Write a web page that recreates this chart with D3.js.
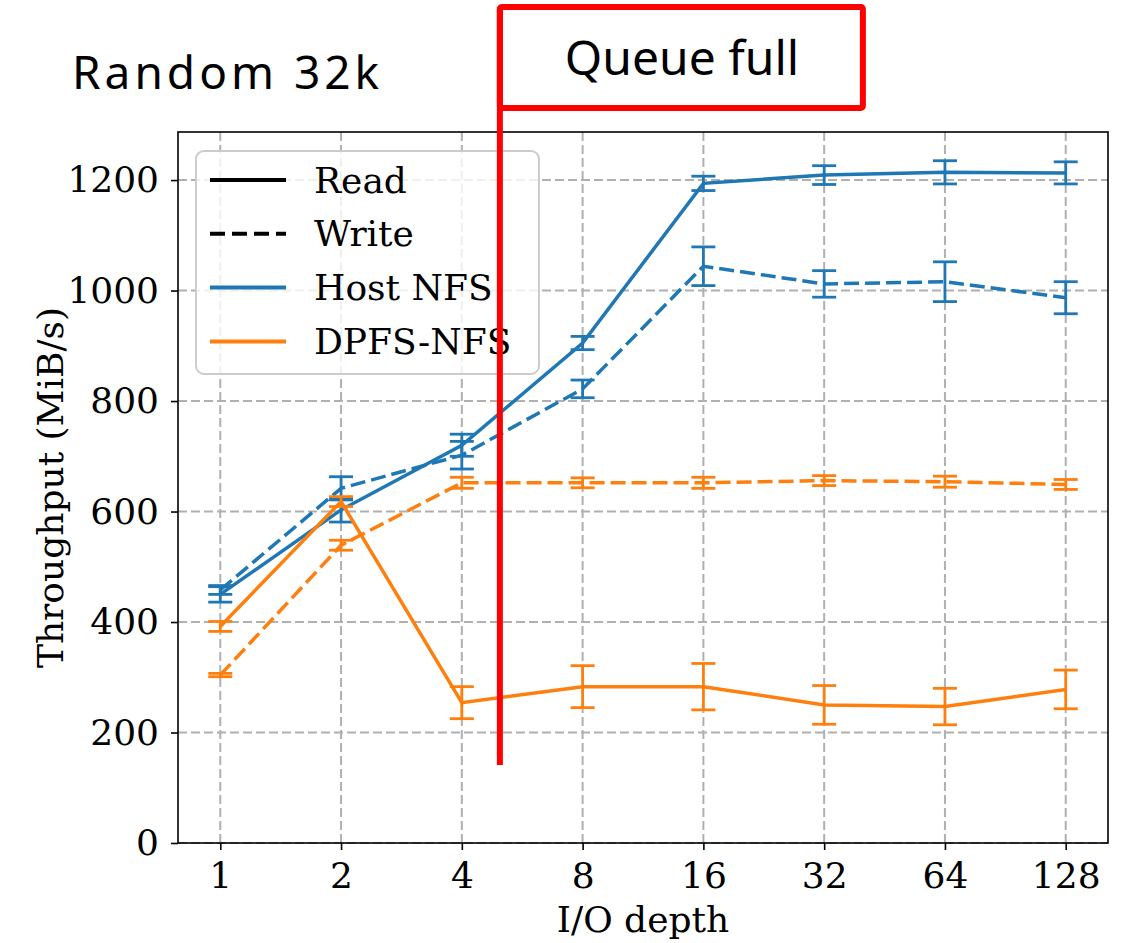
<!DOCTYPE html>
<html>
<head>
<meta charset="utf-8">
<script src="https://cdn.jsdelivr.net/npm/d3@7"></script>
<style>
	body { margin: 0; background: #fff; }
	svg { display: block; }
</style>
</head>
<body>
<div id="chart"></div>
<script>
// I/O depth categories and y ticks
const depths = ["1", "2", "4", "8", "16", "32", "64", "128"];
const yTicks = [0, 200, 400, 600, 800, 1000, 1200];

// Throughput (MiB/s), with error bar half widths
const hostRead = [450, 603, 720, 905, 1194, 1209, 1214, 1213];
const hostReadErr = [14, 22, 20, 12, 13, 17, 21, 20];
const hostWrite = [458, 642, 702, 822, 1044, 1012, 1016, 987];
const hostWriteErr = [8, 21, 25, 16, 35, 24, 36, 29];
const dpfsRead = [392, 618, 254, 283, 283, 250, 247, 278];
const dpfsReadErr = [9, 9, 29, 38, 42, 35, 33, 35];
const dpfsWrite = [304, 539, 652, 652, 652, 656, 654, 649];
const dpfsWriteErr = [3, 9, 10, 9, 10, 9, 10, 9];

const series = [
	{ vals: hostRead, err: hostReadErr, color: "#1f77b4", dash: null },
	{ vals: hostWrite, err: hostWriteErr, color: "#1f77b4", dash: "15,6" },
	{ vals: dpfsRead, err: dpfsReadErr, color: "#ff7f0e", dash: null },
	{ vals: dpfsWrite, err: dpfsWriteErr, color: "#ff7f0e", dash: "15,6" }
];

const legendItems = [
	{ label: "Read", color: "#000", dash: null },
	{ label: "Write", color: "#000", dash: "15,7" },
	{ label: "Host NFS", color: "#1f77b4", dash: null },
	{ label: "DPFS-NFS", color: "#ff7f0e", dash: null }
];

const width = 1127, height = 943;
const pLeft = 178, pRight = 1108, pTop = 132, pBottom = 843;
const serif = "'DejaVu Serif', serif";
const sans = "'Noto Sans', sans-serif";
const fs = "36px";

const svg = d3.select("#chart").append("svg")
	.attr("width", width)
	.attr("height", height);

const x = d3.scalePoint().domain(depths).range([pLeft, pRight]).padding(0.35);
// same positions as an index scale, for the annotation between categories
const xi = d3.scaleLinear().domain([-0.35, 7.35]).range([pLeft, pRight]);
const y = d3.scaleLinear().domain([0, 1287]).range([pBottom, pTop]);

// grid
const grid = svg.append("g")
	.attr("stroke", "#b0b0b0")
	.attr("stroke-width", 2)
	.attr("stroke-dasharray", "9,4");
grid.selectAll(".vg").data(depths).enter().append("line")
	.attr("x1", d => x(d)).attr("x2", d => x(d))
	.attr("y1", pTop).attr("y2", pBottom);
grid.selectAll(".hg").data(yTicks).enter().append("line")
	.attr("x1", pLeft).attr("x2", pRight)
	.attr("y1", d => y(d)).attr("y2", d => y(d));

// lines + error bars
const line = d3.line().x((d, i) => x(depths[i])).y(d => y(d));
series.forEach(s =>
{
	const g = svg.append("g");
	g.append("path")
		.datum(s.vals)
		.attr("d", line)
		.attr("fill", "none")
		.attr("stroke", s.color)
		.attr("stroke-width", 3.5)
		.attr("stroke-dasharray", s.dash);

	const eb = g.selectAll(".eb").data(s.vals).enter().append("g")
		.attr("stroke", s.color)
		.attr("stroke-width", 2.8);
	eb.append("line")
		.attr("x1", (d, i) => x(depths[i])).attr("x2", (d, i) => x(depths[i]))
		.attr("y1", (d, i) => y(d - s.err[i])).attr("y2", (d, i) => y(d + s.err[i]));
	[-1, 1].forEach(sign =>
	{
		eb.append("line")
			.attr("x1", (d, i) => x(depths[i]) - 12).attr("x2", (d, i) => x(depths[i]) + 12)
			.attr("y1", (d, i) => y(d + sign * s.err[i])).attr("y2", (d, i) => y(d + sign * s.err[i]));
	});
});

// axes
const xAxis = svg.append("g")
	.attr("transform", `translate(0,${pBottom})`)
	.call(d3.axisBottom(x).tickSize(7).tickPadding(12));
const yAxis = svg.append("g")
	.attr("transform", `translate(${pLeft},0)`)
	.call(d3.axisLeft(y).tickValues(yTicks).tickFormat(d3.format("d")).tickSize(7).tickPadding(12));
[xAxis, yAxis].forEach(a =>
{
	a.select(".domain").remove();
	a.selectAll(".tick line").attr("stroke", "#000").attr("stroke-width", 1.6);
	a.selectAll(".tick text")
		.attr("fill", "#000")
		.style("font-family", serif)
		.style("font-size", fs);
});

// frame
svg.append("rect")
	.attr("x", pLeft).attr("y", pTop)
	.attr("width", pRight - pLeft).attr("height", pBottom - pTop)
	.attr("fill", "none")
	.attr("stroke", "#000")
	.attr("stroke-width", 1.6);

// axis labels
svg.append("text")
	.attr("x", (pLeft + pRight) / 2).attr("y", 932)
	.attr("text-anchor", "middle")
	.style("font-family", serif).style("font-size", fs)
	.text("I/O depth");
svg.append("text")
	.attr("transform", `translate(50,${(pTop + pBottom) / 2}) rotate(-90)`)
	.attr("text-anchor", "middle")
	.attr("dy", "0.35em")
	.style("font-family", serif).style("font-size", fs)
	.text("Throughput (MiB/s)");

// legend
const lg = svg.append("g");
lg.append("rect")
	.attr("x", 196).attr("y", 151)
	.attr("width", 343).attr("height", 223)
	.attr("rx", 8)
	.attr("fill", "rgba(255,255,255,0.8)")
	.attr("stroke", "#cccccc")
	.attr("stroke-width", 2);
legendItems.forEach((d, i) =>
{
	const ly = 180 + i * 53.8;
	lg.append("line")
		.attr("x1", 210).attr("x2", 286)
		.attr("y1", ly).attr("y2", ly)
		.attr("stroke", d.color)
		.attr("stroke-width", 4)
		.attr("stroke-dasharray", d.dash);
	lg.append("text")
		.attr("x", 314).attr("y", ly)
		.attr("dy", "0.35em")
		.style("font-family", serif).style("font-size", fs)
		.text(d.label);
});

// "Queue full" marker
svg.append("line")
	.attr("x1", xi(2.315)).attr("x2", xi(2.315))
	.attr("y1", y(141)).attr("y2", 7)
	.attr("stroke", "#ff0000")
	.attr("stroke-width", 6);
svg.append("rect")
	.attr("x", xi(2.315)).attr("y", 7)
	.attr("width", 363).attr("height", 101)
	.attr("rx", 2)
	.attr("fill", "none")
	.attr("stroke", "#ff0000")
	.attr("stroke-width", 6);
svg.append("text")
	.attr("x", 682).attr("y", 75)
	.attr("text-anchor", "middle")
	.style("font-family", sans).style("font-size", "48px")
	.text("Queue full");

// title
svg.append("text")
	.attr("x", 72).attr("y", 89)
	.style("font-family", sans).style("font-size", "46px")
	.style("letter-spacing", "4px")
	.text("Random 32k");
</script>
</body>
</html>
